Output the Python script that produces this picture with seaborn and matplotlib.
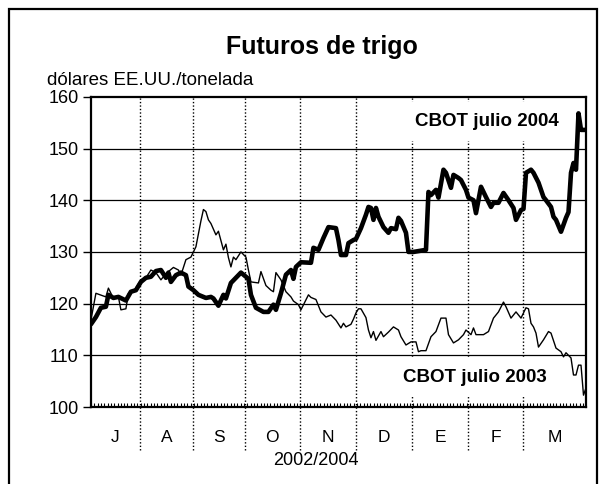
import numpy as np
import pandas as pd
import matplotlib
matplotlib.use("Agg")
import matplotlib.pyplot as plt
import matplotlib.transforms as mtransforms
from matplotlib.patches import Rectangle
import seaborn as sns

# Trading-day index (x) and price in USD/t
dias_2003 = [0, 2, 6, 7, 9, 11, 12, 14, 15, 17, 20, 22, 24, 26, 28, 30, 33, 35, 36, 38,
             40, 42, 44, 45, 46, 47, 48, 50, 51, 53, 54, 55, 56, 57, 58, 60, 62, 63, 64, 67,
             68, 70, 72, 73, 74, 76, 78, 80, 81, 83, 84, 87, 88, 90, 92, 94, 96, 98, 100, 101,
             102, 104, 105, 106, 107, 108, 110, 111, 112, 113, 114, 116, 117, 119, 121, 123, 124, 126, 128, 130,
             131, 132, 134, 136, 138, 140, 142, 143, 145, 147, 149, 150, 152, 153, 154, 157, 159, 161, 163, 165,
             166, 168, 170, 172, 174, 175, 176, 177, 178, 179, 181, 183, 184, 186, 188, 189, 190, 192, 193, 194,
             195, 196, 197, 198]
precio_2003 = [116.8, 122, 121.3, 123, 121, 121.3, 118.8, 119, 122, 122.3, 124.6, 125, 126.5, 126, 124.6, 125.8, 127, 126.5, 125.5, 128.5,
               129, 131, 136, 138.2, 137.8, 136.2, 135.5, 133.3, 134, 130.4, 131.5, 128.9, 127.1, 129, 128.5, 130, 129, 126.5, 124.2, 124,
               126.2, 123.5, 122.6, 122.3, 126, 124.6, 122.3, 121.3, 120.5, 119.8, 118.8, 121.7, 121.2, 120.8, 118.4, 117.4, 117.8, 116.8, 115.3, 116.2,
               115.5, 116, 117, 118.2, 119, 119, 117.3, 114.9, 113.4, 114.6, 112.9, 114.6, 113.6, 114.5, 115.5, 114.9, 113.6, 112, 112.6, 112.6,
               110.7, 110.9, 110.9, 113.6, 114.6, 117.2, 117.2, 114, 112.4, 113, 114, 114.9, 114, 115.3, 114, 114, 114.6, 117.2, 118.4, 120.3,
               119.4, 117.2, 118.4, 117.2, 119.2, 119, 116.2, 115.5, 114.3, 111.6, 113, 114.6, 114.3, 111.4, 110.7, 109.7, 110.5, 109.5, 106.2, 106.2,
               108.1, 108.1, 102.3, 103.7]

dias_2004 = [0, 2, 4, 6, 7, 9, 11, 14, 16, 18, 20, 22, 24, 26, 28, 30, 31, 32, 34, 36,
             38, 39, 41, 43, 46, 48, 49, 51, 53, 54, 56, 58, 60, 62, 63, 64, 66, 69, 71, 73,
             74, 76, 78, 80, 81, 82, 84, 88, 89, 91, 93, 95, 98, 99, 100, 102, 103, 105, 106, 108,
             110, 111, 112, 113, 114, 115, 117, 119, 120, 122, 123, 124, 126, 127, 129, 134, 135, 136, 138, 139,
             141, 142, 144, 145, 147, 148, 150, 151, 153, 154, 156, 158, 160, 161, 163, 165, 167, 169, 170, 172,
             173, 174, 176, 177, 179, 181, 182, 184, 185, 186, 188, 190, 191, 192, 193, 194, 195, 196, 198]
precio_2004 = [116, 117.4, 119.2, 119.4, 121.7, 121.1, 121.3, 120.6, 122.3, 122.6, 124.2, 125, 125.2, 126.3, 126.5, 125, 126, 124.2, 125.5, 126,
               125.5, 123.3, 122.6, 121.7, 121.1, 121.3, 121, 119.6, 121.7, 121, 124, 125, 126, 125.2, 124.8, 121.7, 119.2, 118.4, 118.4, 119.8,
               118.8, 122, 125.6, 126.5, 124.8, 127.1, 128, 127.9, 130.8, 130.4, 132.7, 134.8, 134.6, 132.3, 129.4, 129.4, 131.7, 132.3, 132.5, 134.6,
               137.2, 138.7, 138.5, 136.2, 138.5, 136.8, 134.8, 133.7, 134.6, 134.4, 136.6, 136, 133.7, 130, 130, 130.4, 141.6, 141, 142, 140.5,
               145.9, 145.3, 142.4, 144.9, 144.3, 143.9, 142, 140.5, 140, 137.5, 142.6, 140.6, 138.7, 139.5, 139.5, 141.4, 140, 138.5, 136.2, 138.1,
               138.3, 145.3, 145.9, 145.3, 143.4, 140.6, 140, 138.7, 136.8, 136.2, 133.9, 136.6, 137.7, 145.3, 147.2, 145.9, 156.8, 153.6, 153.6]

meses = ["J", "A", "S", "O", "N", "D", "E", "F", "M"]
limites_mes = [0, 19.5, 41, 61.5, 83.5, 106, 128.5, 151, 173, 198]

df_2003 = pd.DataFrame({"dia": dias_2003, "precio": precio_2003})
df_2004 = pd.DataFrame({"dia": dias_2004, "precio": precio_2004})

sns.set_theme(style="white")
plt.rcParams["font.family"] = ["Liberation Sans", "DejaVu Sans"]
plt.rcParams["text.color"] = "black"
plt.rcParams["xtick.color"] = "black"
plt.rcParams["ytick.color"] = "black"

fig = plt.figure(figsize=(6.06, 4.84), dpi=100)
ax = fig.add_axes([0.150, 0.159, 0.817, 0.641])

# horizontal grid
for v in [110, 120, 130, 140, 150]:
    ax.axhline(v, color="black", lw=0.9, zorder=1)

# dotted month separators, running below the axis
trans = mtransforms.blended_transform_factory(ax.transData, ax.transAxes)
for b in limites_mes[1:-1]:
    ax.plot([b, b], [-0.14, 1.0], transform=trans, color="black", lw=1.0,
            linestyle=(0, (1, 1.5)), clip_on=False, zorder=1)

sns.lineplot(data=df_2003, x="dia", y="precio", ax=ax, color="black", lw=1.0, zorder=3)
sns.lineplot(data=df_2004, x="dia", y="precio", ax=ax, color="black", lw=3.3, zorder=4)

ax.set_xlim(0, 198)
ax.set_ylim(100, 160)
ax.set_yticks([100, 110, 120, 130, 140, 150, 160])
ax.tick_params(axis="y", direction="out", length=6, width=1, labelsize=13,
               left=True, pad=3, colors="black")
ax.set_xticks(np.arange(0, 198, 1.33), minor=True)
ax.set_xticks([])
ax.tick_params(axis="x", which="minor", direction="in", length=3, width=0.8,
               bottom=True, colors="black")
ax.set_xlabel("")
ax.set_ylabel("")
for s in ax.spines.values():
    s.set_color("black")
    s.set_linewidth(1.6)

for i, m in enumerate(meses):
    c = (limites_mes[i] + limites_mes[i + 1]) / 2
    ax.text(c, -0.097, m, transform=trans, ha="center", va="center", fontsize=12.5)
ax.text(0.455, -0.171, "2002/2004", transform=ax.transAxes, ha="center",
        va="center", fontsize=13)

box = dict(facecolor="white", edgecolor="none", pad=8)
ax.text(187, 155.2, "CBOT julio 2004", ha="right", va="center", fontsize=13.5,
        fontweight="bold", bbox=box, zorder=2)
ax.text(182.5, 105.8, "CBOT julio 2003", ha="right", va="center", fontsize=13.5,
        fontweight="bold", bbox=box, zorder=2)

fig.text(0.531, 0.903, "Futuros de trigo", ha="center", va="center",
         fontsize=18, fontweight="bold")
fig.text(0.077, 0.833, "dólares EE.UU./tonelada", ha="left", va="center",
         fontsize=13.5)

fig.patches.append(Rectangle((9 / 606, -0.1), 588 / 606, 1.1 - 9 / 484,
                             transform=fig.transFigure, fill=False,
                             edgecolor="black", lw=1.6))

fig.savefig("out.png", dpi=100)
